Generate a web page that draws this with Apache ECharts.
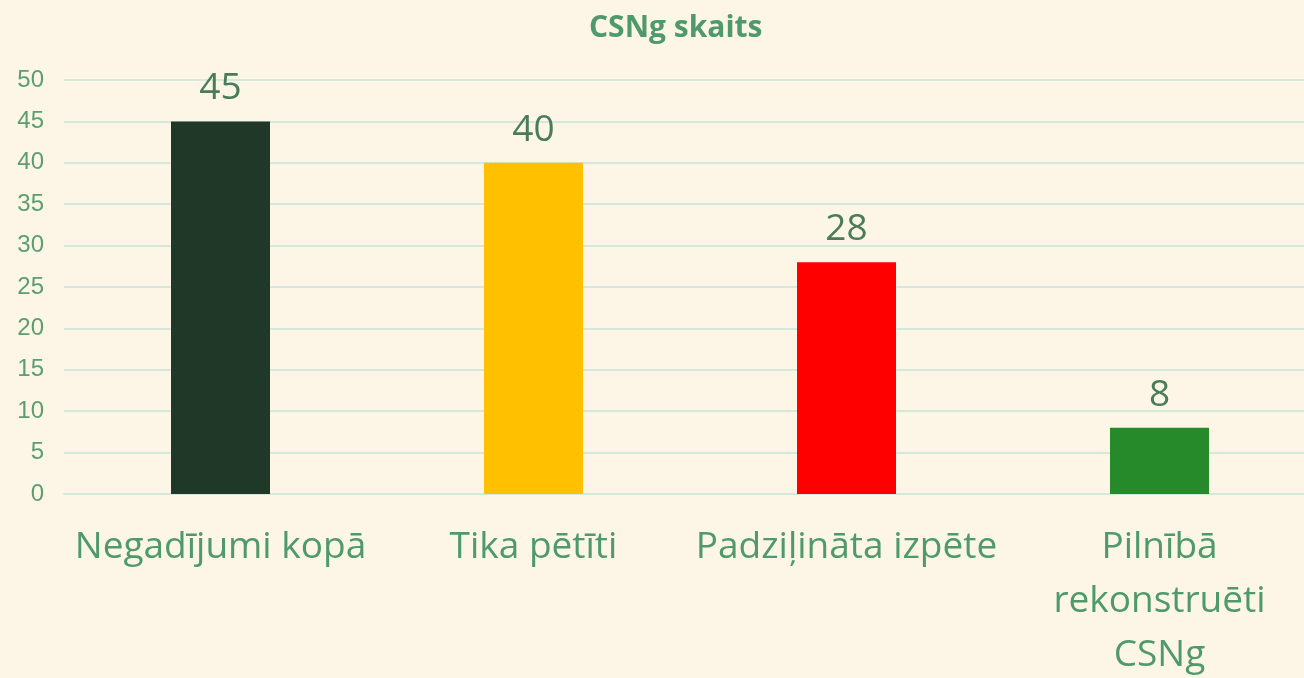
<!DOCTYPE html>
<html>
<head>
<meta charset="utf-8">
<script src="https://cdn.jsdelivr.net/npm/echarts@6/dist/echarts.min.js"></script>
<style>
  html, body { margin: 0; padding: 0; background: #fdf5e5; }
  #chart { width: 1304px; height: 678px; }
</style>
</head>
<body>
<div id="chart"></div>
<script>
const categories = ['Negadījumi kopā', 'Tika pētīti', 'Padziļināta izpēte', 'Pilnībā\nrekonstruēti\nCSNg']
const values = [45, 40, 28, 8]
const barColors = ['#1f3828', '#ffc000', '#ff0000', '#268a2a']

const green = '#4e9a6c'
const chart = echarts.init(document.getElementById('chart'))
chart.setOption({
  backgroundColor: '#fdf5e5',
  animation: false,
  title: {
    text: 'CSNg skaits',
    left: 584,
    top: 8,
    textStyle: { color: green, fontSize: 30, fontWeight: 'bold', fontFamily: 'Open Sans' }
  },
  grid: { left: 64, right: -12, top: 80, bottom: 184, containLabel: false, outerBoundsMode: 'none' },
  xAxis: {
    type: 'category',
    data: categories,
    axisLine: { show: true, lineStyle: { color: '#d5e8dc', width: 2 } },
    axisTick: { show: false },
    axisLabel: {
      color: green,
      fontSize: 37,
      fontFamily: 'Open Sans',
      margin: 26,
      lineHeight: 54,
      interval: 0
    }
  },
  yAxis: {
    type: 'value',
    min: 0,
    max: 50,
    interval: 5,
    axisLine: { show: false },
    axisTick: { show: false },
    axisLabel: { color: '#5a9e72', fontSize: 24, fontFamily: 'Liberation Sans', margin: 20 },
    splitLine: { lineStyle: { color: '#d5e8dc', width: 2 } }
  },
  series: [{
    type: 'bar',
    data: values.map((v, i) => ({ value: v, itemStyle: { color: barColors[i] } })),
    barWidth: 99,
    label: {
      show: true,
      position: 'top',
      distance: 14,
      color: '#4a7c59',
      fontSize: 37,
      fontFamily: 'Open Sans'
    }
  }]
})
</script>
</body>
</html>
